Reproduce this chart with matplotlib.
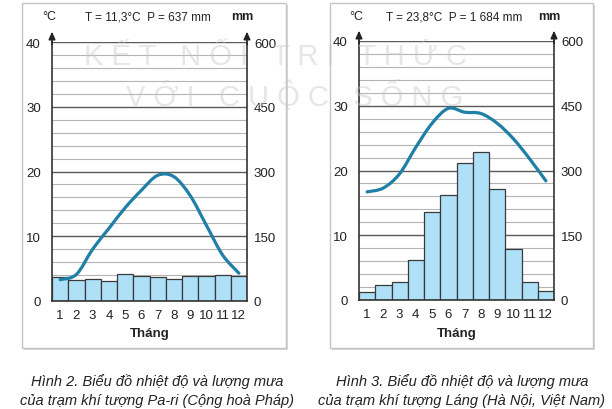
import warnings
warnings.filterwarnings("ignore")
import matplotlib
matplotlib.use("Agg")
import matplotlib.pyplot as plt
from matplotlib.patches import Rectangle, PathPatch
from matplotlib.path import Path
import numpy as np

months = list(range(1, 13))
month_labels = [str(m) for m in months]
paris_temp = [3.3, 4.1, 8.0, 11.2, 14.4, 17.1, 19.4, 19.2, 16.3, 11.7, 7.1, 4.3]
paris_rain = [56, 48, 52, 46, 62, 58, 55, 52, 57, 59, 61, 58]
hanoi_temp = [16.7, 17.3, 19.5, 23.6, 27.3, 29.6, 29.0, 28.8, 27.3, 24.9, 21.8, 18.4]
hanoi_rain = [18, 35, 42, 93, 203, 243, 318, 343, 258, 118, 42, 20]
temp_ticks = [0, 10, 20, 30, 40]
rain_ticks = [0, 150, 300, 450, 600]
titles = ["T = 11,3°C  P = 637 mm", "T = 23,8°C  P = 1 684 mm"]
captions = ["Hình 2. Biểu đồ nhiệt độ và lượng mưa\ncủa trạm khí tượng Pa-ri (Cộng hoà Pháp)",
            "Hình 3. Biểu đồ nhiệt độ và lượng mưa\ncủa trạm khí tượng Láng (Hà Nội, Việt Nam)"]

FONT = ["Liberation Sans", "DejaVu Sans"]
plt.rcParams["font.family"] = FONT

W, H = 612, 410
fig = plt.figure(figsize=(W / 100, H / 100), dpi=100)
fig.patch.set_facecolor("white")

def fx(px):
    return px / W

def fy(py):
    return 1 - py / H

LINE_C = "#1f7fa6"
BAR_C = "#aee0f8"
EDGE_C = "#3a3a3a"
TXT = "#222222"

def smooth_path(xs, ys):
    pts = np.column_stack([xs, ys]).astype(float)
    n = len(pts)
    verts = [pts[0]]
    codes = [Path.MOVETO]
    for i in range(n - 1):
        p0 = pts[i - 1] if i > 0 else pts[i]
        p1 = pts[i]
        p2 = pts[i + 1]
        p3 = pts[i + 2] if i + 2 < n else pts[i + 1]
        c1 = p1 + (p2 - p0) / 6.0
        c2 = p2 - (p3 - p1) / 6.0
        verts += [c1, c2, p2]
        codes += [Path.CURVE4] * 3
    return Path(verts, codes)

panels = [
    dict(box=(22, 4, 286, 349), ax=(52, 43, 247, 302), temp=paris_temp, rain=paris_rain, ccx=157),
    dict(box=(330, 4, 593, 349), ax=(359, 42, 554, 301), temp=hanoi_temp, rain=hanoi_rain, ccx=462),
]

for k, p in enumerate(panels):
    bx0, by0, bx1, by1 = p["box"]
    fig.patches.append(Rectangle((fx(bx0 + 2), fy(by1 + 2)), fx(bx1 - bx0), (by1 - by0) / H,
                                 transform=fig.transFigure, facecolor="#d9d9d9",
                                 edgecolor="none", zorder=-3))
    fig.patches.append(Rectangle((fx(bx0), fy(by1)), fx(bx1 - bx0), (by1 - by0) / H,
                                 transform=fig.transFigure, facecolor="white",
                                 edgecolor="#c4c4c4", lw=1.0, zorder=-2))

    x0, y0, x1, y1 = p["ax"]
    rect = [fx(x0), fy(y1), fx(x1 - x0), (y1 - y0) / H]
    axr = fig.add_axes(rect)
    axr.set_xlim(0.5, 12.5)
    axr.set_ylim(0, 600)
    axr.patch.set_visible(False)
    for v in range(30, 601, 30):
        major = v % 150 == 0
        axr.axhline(v, color="#5a5a5a" if major else "#b4b4b4",
                    lw=1.0 if major else 0.8, zorder=0.5)
    axr.bar(months, p["rain"], width=1.0, color=BAR_C, edgecolor=EDGE_C,
            lw=0.9, zorder=1)
    axr.yaxis.tick_right()
    axr.set_yticks(rain_ticks)
    axr.set_yticklabels([str(t) for t in rain_ticks], fontsize=9.5)
    axr.tick_params(axis="y", length=0, pad=5, colors=TXT)
    axr.set_xticks(months)
    axr.set_xticklabels(month_labels, fontsize=9.5)
    axr.tick_params(axis="x", length=0, pad=6, colors=TXT)
    axr.spines["top"].set_visible(False)
    for s in ["left", "right", "bottom"]:
        axr.spines[s].set_color("#333333")
        axr.spines[s].set_linewidth(1.2)

    axt = fig.add_axes(rect, sharex=axr)
    axt.patch.set_visible(False)
    axt.set_ylim(0, 40)
    axt.set_yticks(temp_ticks)
    axt.set_yticklabels([str(t) for t in temp_ticks], fontsize=9.5)
    axt.tick_params(axis="y", length=0, pad=8, colors=TXT)
    axt.tick_params(axis="x", bottom=False, labelbottom=False)
    for s in axt.spines.values():
        s.set_visible(False)
    patch = PathPatch(smooth_path(months, p["temp"]), facecolor="none",
                      edgecolor=LINE_C, lw=2.3, capstyle="round", joinstyle="round",
                      transform=axt.transData, zorder=3)
    axt.add_patch(patch)

    for xa in (0, 1):
        axt.annotate("", xy=(xa, 1.04), xycoords="axes fraction",
                     xytext=(xa, 0.99), textcoords="axes fraction",
                     arrowprops=dict(arrowstyle="-|>,head_length=0.45,head_width=0.2",
                                     color=TXT, lw=1.1, shrinkA=0, shrinkB=0))

    cx = (x0 + x1) / 2
    fig.text(fx(cx - 2), fy(17), titles[k], ha="center", va="center", fontsize=8.5,
             color=TXT)
    fig.text(fx(x0 - 3), fy(17), "°C", ha="center", va="center", fontsize=9,
             color=TXT)
    fig.text(fx(x1 - 5), fy(17), "mm", ha="center", va="center", fontsize=9,
             fontweight="bold", color=TXT)
    fig.text(fx(cx), fy(334), "Tháng", ha="center", va="center", fontsize=9.5,
             fontweight="bold", color=TXT)
    fig.text(fx(p["ccx"]), fy(391), captions[k], ha="center", va="center",
             fontsize=10.5, style="italic", color=TXT, linespacing=1.4)

fig.text(fx(275), fy(57), "K Ế T   N Ố I   T R I   T H Ứ C", ha="center", va="center",
         fontsize=21, color="#c8c8c8", alpha=0.45, zorder=10)
fig.text(fx(295), fy(96), "V Ớ I   C U Ộ C   S Ố N G", ha="center", va="center",
         fontsize=21, color="#c8c8c8", alpha=0.45, zorder=10)

fig.savefig("out.png", dpi=100)
